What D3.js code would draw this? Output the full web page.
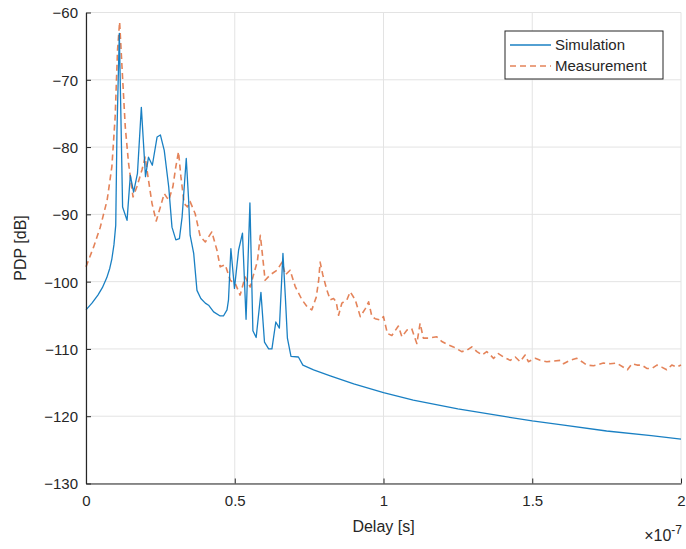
<!DOCTYPE html>
<html>
<head>
<meta charset="utf-8">
<script src="https://cdn.jsdelivr.net/npm/d3@7"></script>
<style>
  html, body { margin: 0; padding: 0; background: #ffffff; }
  svg { display: block; font-family: "Liberation Sans", Arial, Helvetica, sans-serif; }
</style>
</head>
<body>
<svg id="chart" width="686" height="549"></svg>
<script>
// Delay in nanoseconds, power delay profile in dB
const simDelayNs = [0, 2, 4, 5.5, 7, 8, 8.7, 9.4, 10.0, 10.4, 11.2, 11.8, 12.3, 13.8, 14.9, 16.0, 17.3, 18.6, 20.0, 21.0, 22.3, 23.9, 25.0, 26.3, 27.8, 28.9, 30.2, 31.4, 32.3, 33.7, 34.5, 35.0, 36.2, 37.3, 38.6, 40.1, 41.2, 42.9, 45.1, 46.2, 47.4, 47.9, 48.7, 49.9, 51.3, 52.6, 53.8, 55.1, 56.1, 57.2, 58.8, 60.0, 61.4, 62.5, 63.8, 65.0, 66.2, 67.0, 67.7, 68.9, 71.4, 72.9, 76.5, 82.1, 90, 100, 110, 125, 140, 150, 160, 175, 190, 200];
const simPdpDb = [-104.2, -103.2, -102.0, -100.9, -99.4, -98.0, -96.6, -94.5, -91.6, -77.9, -63.1, -77, -88.9, -90.9, -84.2, -86.7, -83.9, -74.1, -84.4, -81.5, -82.7, -78.5, -78.2, -80.5, -85.9, -91.9, -93.8, -93.6, -90.4, -81.7, -87.9, -93.1, -95.8, -101.3, -102.5, -103.2, -103.5, -104.5, -105.1, -105.1, -104.2, -102.7, -95.1, -101, -95.3, -92.8, -105.6, -88.3, -107.3, -108.3, -101.6, -109, -110, -110, -106, -106.9, -95.8, -102.2, -108.4, -111.1, -111.2, -112.4, -113.1, -114, -115.2, -116.5, -117.6, -118.9, -120.0, -120.7, -121.3, -122.2, -122.9, -123.4];

const measDelayNs = [0, 2.6, 4.8, 7.1, 8.7, 9.8, 10.6, 11.3, 12.1, 13.2, 14.3, 15.8, 17.1, 18.8, 19.9, 21.0, 22.2, 23.6, 25.0, 26.3, 27.8, 29.2, 30.2, 31.1, 31.9, 33.0, 34.1, 35.0, 36.7, 38.4, 40.1, 42.3, 44.0, 45.1, 46.8, 48.5, 50.2, 51.8, 53.5, 55.2, 56.3, 57.6, 58.6, 59.5, 60.2, 61.9, 64.2, 65.9, 67.0, 68.6, 70.3, 72.6, 74.3, 75.9, 77.4, 78.2, 78.7, 79.6, 81.0, 82.1, 83.2, 84.1, 84.9, 86.0, 87.7, 88.8, 90.5, 92.2, 93.9, 95.0, 96.1, 97.2, 98.9, 100.0, 101.3, 102.8, 105.0, 106.2, 107.9, 109.5, 111.2, 112.3, 113.4, 115.1, 117.9, 119.6, 121.3, 123.5, 126.3, 128.0, 129.7, 131.4, 133.1, 134.7, 135.9, 137.0, 138.6, 140.3, 142.6, 144.3, 145.9, 147.6, 148.7, 151.0, 152.7, 154.9, 157.1, 159.4, 160.5, 162.7, 165.0, 166.7, 168.3, 170.6, 173.9, 176.2, 178.4, 182.0, 183.5, 185.2, 186.8, 188.5, 190.2, 191.9, 193.5, 195.2, 196.9, 198.6, 200];
const measPdpDb = [-97.8, -94.8, -91.9, -87.9, -82.9, -75.5, -65.6, -61.4, -68.1, -77, -82.4, -87.4, -85.9, -83.4, -81.5, -84.9, -88.4, -91, -88.9, -86.9, -87.9, -85.9, -82.9, -80.7, -84.4, -88.4, -88.9, -88.1, -89.9, -93.3, -94.1, -92.6, -95.3, -97.8, -97.5, -99.8, -100.3, -102, -99.3, -100.8, -99, -97, -93.1, -96.8, -99.8, -99, -98.3, -97.1, -99, -98.3, -100.7, -102.7, -103.7, -104.2, -102.3, -99.8, -97.1, -99, -101.3, -102.7, -102.5, -103, -105, -103.2, -102.7, -101.5, -102.7, -105.2, -104, -103, -105.2, -105.5, -105.7, -105.2, -107.7, -108, -106.6, -108.2, -107.2, -107, -109.2, -106.2, -108.4, -108.4, -108.2, -108.9, -109.3, -109.7, -110.4, -110.2, -109.7, -110.4, -110.9, -110.4, -110.9, -111.4, -110.7, -111.2, -111.7, -111.2, -111.9, -110.9, -111.9, -111.4, -111.7, -111.9, -111.8, -111.7, -112.2, -111.7, -111.4, -111.9, -112.4, -112.5, -112.1, -112.2, -112.1, -113.1, -112.2, -112.4, -112.4, -112.9, -112.9, -112.4, -112.7, -113.1, -112.4, -112.7, -112.4];

const xTickValues = [0, 50, 100, 150, 200];
const xTickLabels = ["0", "0.5", "1", "1.5", "2"];
const yTickValues = [-130, -120, -110, -100, -90, -80, -70, -60];
const seriesNames = ["Simulation", "Measurement"];

const margin = { left: 86, right: 5, top: 12.5, bottom: 65.5 };
const W = 686, H = 549;
const svg = d3.select("#chart");

const x = d3.scaleLinear().domain([0, 200]).range([margin.left, W - margin.right]);
const y = d3.scaleLinear().domain([-130, -60]).range([H - margin.bottom, margin.top]);

const axisColor = "#262626";
const gridColor = "#e3e3e3";

// grid
const grid = svg.append("g");
grid.selectAll("line.gx").data(xTickValues).join("line")
  .attr("x1", d => x(d)).attr("x2", d => x(d))
  .attr("y1", y(-130)).attr("y2", y(-60))
  .attr("stroke", gridColor).attr("stroke-width", 1);
grid.selectAll("line.gy").data(yTickValues).join("line")
  .attr("x1", x(0)).attr("x2", x(200))
  .attr("y1", d => y(d)).attr("y2", d => y(d))
  .attr("stroke", gridColor).attr("stroke-width", 1);

// curves
const line = d3.line().x(d => x(d[0])).y(d => y(d[1]));
const measData = measDelayNs.map((t, i) => [t, measPdpDb[i]]);
const simData = simDelayNs.map((t, i) => [t, simPdpDb[i]]);

svg.append("path").datum(measData)
  .attr("d", line).attr("fill", "none")
  .attr("stroke", "#D95319").attr("stroke-opacity", 0.72)
  .attr("stroke-width", 1.6).attr("stroke-dasharray", "6,4")
  .attr("stroke-linejoin", "round");

svg.append("path").datum(simData)
  .attr("d", line).attr("fill", "none")
  .attr("stroke", "#0072BD").attr("stroke-opacity", 0.9)
  .attr("stroke-width", 1.3).attr("stroke-linejoin", "round");

// axes
const xAxis = d3.axisBottom(x).tickValues(xTickValues)
  .tickFormat((d, i) => xTickLabels[i]).tickSizeInner(-5).tickSizeOuter(0).tickPadding(12);
const yAxis = d3.axisLeft(y).tickValues(yTickValues)
  .tickSizeInner(-5).tickSizeOuter(0).tickPadding(8);

const gx = svg.append("g").attr("transform", `translate(0,${y(-130)})`).call(xAxis);
const gy = svg.append("g").attr("transform", `translate(${x(0)},0)`).call(yAxis);
[gx, gy].forEach(g => {
  g.select(".domain").attr("stroke", axisColor).attr("stroke-width", 1.2);
  g.selectAll(".tick line").attr("stroke", axisColor).attr("stroke-width", 1);
  g.selectAll(".tick text").attr("fill", axisColor).attr("font-size", 15)
    .attr("font-family", "Liberation Sans, Arial, sans-serif");
});
gy.selectAll(".tick text").attr("dy", "0.36em");

// axis labels
svg.append("text").attr("x", x(100)).attr("y", 532)
  .attr("text-anchor", "middle").attr("font-size", 16).attr("fill", axisColor)
  .text("Delay [s]");
svg.append("text").attr("transform", `translate(26,${y(-95)}) rotate(-90)`)
  .attr("text-anchor", "middle").attr("font-size", 16).attr("fill", axisColor)
  .text("PDP [dB]");
const expo = svg.append("text").attr("x", 682).attr("y", 541)
  .attr("text-anchor", "end").attr("font-size", 16).attr("fill", axisColor);
expo.append("tspan").text("\u00d710");
expo.append("tspan").attr("dy", -7).attr("font-size", 12).text("-7");

// legend
const lg = svg.append("g").attr("transform", "translate(505,31)");
lg.append("rect").attr("width", 158).attr("height", 48)
  .attr("fill", "#ffffff").attr("stroke", axisColor).attr("stroke-width", 1);
const styles = [
  { stroke: "#0072BD", dash: null, op: 0.9, w: 1.3 },
  { stroke: "#D95319", dash: "6,4", op: 0.72, w: 1.6 }
];
seriesNames.forEach((name, i) => {
  const yy = 14 + i * 21;
  lg.append("line").attr("x1", 5).attr("x2", 46).attr("y1", yy).attr("y2", yy)
    .attr("stroke", styles[i].stroke).attr("stroke-opacity", styles[i].op)
    .attr("stroke-width", styles[i].w).attr("stroke-dasharray", styles[i].dash);
  lg.append("text").attr("x", 50).attr("y", yy).attr("dy", "0.36em")
    .attr("font-size", 15).attr("fill", axisColor).text(name);
});
</script>
</body>
</html>
